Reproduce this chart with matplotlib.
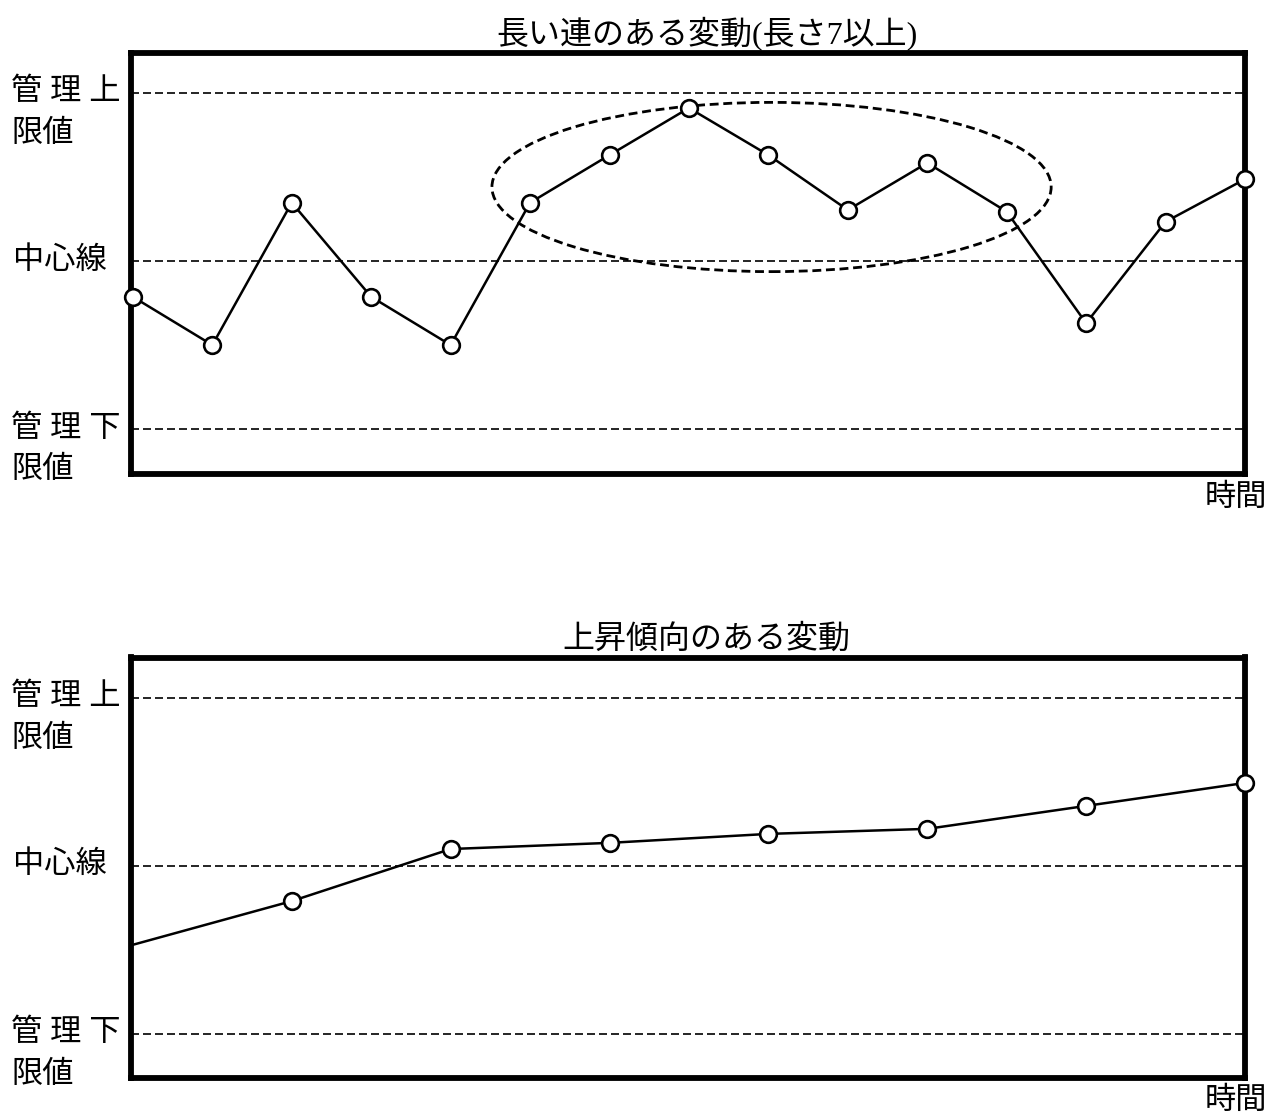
import matplotlib
matplotlib.use("Agg")
import matplotlib.pyplot as plt
from matplotlib.patches import Ellipse

plt.rcParams['font.family'] = ['Liberation Serif', 'Noto Sans CJK JP', 'DejaVu Sans']

# levels in sigma units
ucl, cl, lcl = 3.0, 0.0, -3.0

# top chart: long run
top_title = "長い連のある変動(長さ7以上)"
top_x = list(range(15))
top_y = [-0.64, -1.50, 1.04, -0.64, -1.50, 1.04, 1.89, 2.73, 1.89, 0.91,
         1.75, 0.88, -1.11, 0.70, 1.46]

# bottom chart: upward trend
bot_title = "上昇傾向のある変動"
bot_x = [0, 2, 4, 6, 8, 10, 12, 14]
bot_y = [-1.41, -0.63, 0.30, 0.41, 0.57, 0.66, 1.07, 1.48]

level_labels = [("管 理 上", "限値", ucl), ("中心線", None, cl), ("管 理 下", "限値", lcl)]

W, H = 1271, 1117
fig = plt.figure(figsize=(W / 100, H / 100), dpi=100)

ax1 = fig.add_axes([130.5 / W, 1 - 474.5 / H, (1245 - 130.5) / W, 422 / H])
ax2 = fig.add_axes([130.5 / W, 1 - 1077.5 / H, (1245 - 130.5) / W, 420 / H])

FS = 22.5


def setup(ax, title, ylim):
    ax.set_xlim(-0.03, 14)
    ax.set_ylim(*ylim)
    ax.set_xticks([])
    ax.set_yticks([])
    for s in ax.spines.values():
        s.set_linewidth(4.2)
        s.set_zorder(3)
    for lv in (ucl, cl, lcl):
        ax.axhline(lv, color='black', lw=1.2, ls=(0, (4.8, 2.4)), zorder=1)
    ax.set_title(title, fontsize=FS + 0.5, pad=7, x=0.517)
    for l1, l2, lv in level_labels:
        x0 = 11 / W if l2 else 13 / W
        ax.annotate(l1, xy=(x0, lv), xycoords=('figure fraction', 'data'),
                    ha='left', va='center', fontsize=FS, annotation_clip=False)
        if l2:
            ax.annotate(l2, xy=(x0, lv), xycoords=('figure fraction', 'data'),
                        xytext=(0, -30), textcoords='offset points',
                        ha='left', va='center', fontsize=FS, annotation_clip=False)
    ax.annotate("時間", xy=(1, 0), xycoords='axes fraction',
                xytext=(16, -17), textcoords='offset points',
                ha='right', va='center', fontsize=FS, annotation_clip=False)


setup(ax1, top_title, (-3.81, 3.72))
ax1.plot(top_x, top_y, color='black', lw=1.8, marker='o', ms=12,
         mfc='white', mec='black', mew=1.9, clip_on=False, zorder=5)
ax1.add_patch(Ellipse((8.04, 1.32), 7.04, 3.02, fill=False, ec='black',
                      lw=2.0, ls=(0, (3.2, 1.7)), zorder=4))

setup(ax2, bot_title, (-3.78, 3.72))
ax2.plot(bot_x, bot_y, color='black', lw=1.8, zorder=5)
ax2.plot(bot_x[1:], bot_y[1:], ls='none', marker='o', ms=12,
         mfc='white', mec='black', mew=1.9, clip_on=False, zorder=6)

fig.savefig("out.png", dpi=100)
